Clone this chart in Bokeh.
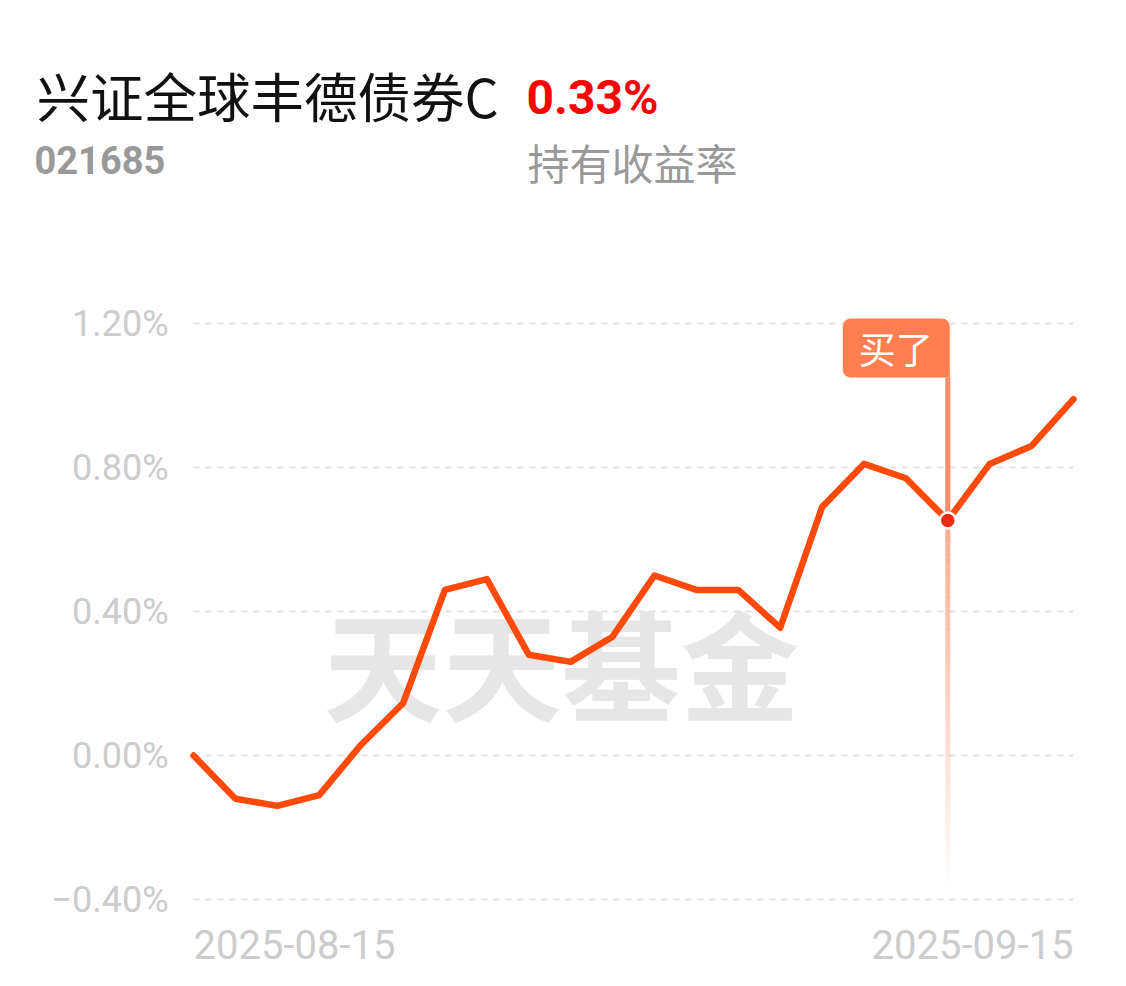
from bokeh.plotting import figure
from bokeh.models import Range1d, Label, BoxAnnotation
from bokeh.core.properties import value
from bokeh.embed import file_html
from bokeh.resources import INLINE
import numpy as np

# ---------------- data ----------------
fund_name = "兴证全球丰德债券C"
fund_code = "021685"
holding_return = "0.33%"
holding_label = "持有收益率"
watermark = "天天基金"
buy_text = "买了"

dates = ["2025-08-15", "2025-08-18", "2025-08-19", "2025-08-20", "2025-08-21",
         "2025-08-22", "2025-08-25", "2025-08-26", "2025-08-27", "2025-08-28",
         "2025-08-29", "2025-09-01", "2025-09-02", "2025-09-03", "2025-09-04",
         "2025-09-05", "2025-09-08", "2025-09-09", "2025-09-10", "2025-09-11",
         "2025-09-12", "2025-09-15"]
returns_pct = [0.00, -0.12, -0.14, -0.11, 0.03, 0.145, 0.46, 0.49, 0.28, 0.26,
               0.33, 0.50, 0.46, 0.46, 0.355, 0.69, 0.81, 0.77, 0.653, 0.81,
               0.86, 0.99]
buy_date = "2025-09-10"
y_ticks = [-0.40, 0.00, 0.40, 0.80, 1.20]
x_tick_labels = ["2025-08-15", "2025-09-15"]

# ---------------- layout ----------------
W, H = 1110, 970
n = len(dates)
xs = list(range(n))
unit = 880 / (n - 1)           # px per index step
ppu = 360.0                    # px per 1 %
x0_page, y0_page = 193, 755    # canvas position of (index 0, 0 %)

def dx(px):
    return (px - x0_page) / unit

def dy(py):
    return (y0_page - py) / ppu

p = figure(width=W, height=H, output_backend="svg", toolbar_location=None,
           x_range=Range1d(dx(0), dx(W)), y_range=Range1d(dy(H), dy(0)),
           min_border=0, min_border_left=0, min_border_right=0,
           min_border_top=0, min_border_bottom=0)
p.outline_line_color = None
p.background_fill_color = "white"
p.border_fill_color = "white"
p.grid.visible = False
p.axis.visible = False

# watermark
p.add_layout(Label(x=dx(561), y=dy(660), text=watermark, text_align="center",
                   text_baseline="middle", text_font="Noto Sans CJK SC",
                   text_font_style="bold", text_font_size="119px",
                   text_color="#e6e6e6", level="underlay"))

# dashed gridlines
p.segment(x0=[xs[0]] * len(y_ticks), x1=[xs[-1]] * len(y_ticks), y0=y_ticks, y1=y_ticks,
          line_color="#e2e2e2", line_width=2, line_dash="6 6")

# y tick labels
y_labels = [f"{t:.2f}%".replace("-", "\u2212") for t in y_ticks]
p.text(x=[dx(168)] * len(y_ticks), y=y_ticks, text=y_labels, text_align="right",
       text_baseline="middle", text_font=value("Roboto"), text_font_size="36px",
       text_color="#cccccc")

# buy marker vertical line
bi = dates.index(buy_date)
bv = returns_pct[bi]
box_top, box_bottom = dy(318), dy(377)
line_end = dy(890)
p.segment(x0=[bi], x1=[bi], y0=[box_bottom], y1=[bv], line_color="#ff8c66", line_width=5)
N = 80
edges = np.linspace(bv, line_end, N + 1)
alphas = np.linspace(0.75, 0.0, N)
p.segment(x0=[bi] * N, x1=[bi] * N, y0=edges[:-1], y1=edges[1:],
          line_color="#ff8c66", line_alpha=alphas, line_width=5)

# main line
p.line(xs, returns_pct, line_color="#ff4a0a", line_width=6.5, line_join="round", line_cap="round")
p.scatter([bi], [bv], size=16, fill_color="#ee2a12", line_color="white", line_width=2.5)

# buy flag
p.add_layout(BoxAnnotation(left=bi - 105 / unit, right=bi + 2 / unit, top=box_top, bottom=box_bottom,
                           fill_color="#ff7f50", fill_alpha=1.0, line_color=None,
                           border_radius=(8, 8, 0, 8)))
p.add_layout(Label(x=bi - 52 / unit, y=(box_top + box_bottom) / 2, text=buy_text,
                   text_align="center", text_baseline="middle",
                   text_font="Noto Sans CJK SC", text_font_size="37px", text_color="white"))

# x tick labels
p.text(x=[xs[0], xs[-1]], y=[dy(944)] * 2, text=x_tick_labels, text_align=["left", "right"],
       text_baseline="middle", text_font=value("Roboto"), text_font_size="40px",
       text_color="#cccccc")

# header texts
p.add_layout(Label(x=dx(36), y=dy(94), text=fund_name, text_align="left", text_baseline="middle",
                   text_font="Noto Sans CJK SC", text_font_size="53.5px", text_color="#111111"))
p.add_layout(Label(x=dx(526), y=dy(97), text=holding_return, text_align="left", text_baseline="middle",
                   text_font="Roboto", text_font_style="bold", text_font_size="48px",
                   text_color="#ff0000"))
p.add_layout(Label(x=dx(34), y=dy(159), text=fund_code, text_align="left", text_baseline="middle",
                   text_font="Roboto", text_font_style="bold", text_font_size="38px",
                   text_color="#999999"))
p.add_layout(Label(x=dx(527), y=dy(161), text=holding_label, text_align="left", text_baseline="middle",
                   text_font="Noto Sans CJK SC", text_font_size="42px", text_color="#999999"))

open("out.html", "w").write(file_html(p, INLINE))
